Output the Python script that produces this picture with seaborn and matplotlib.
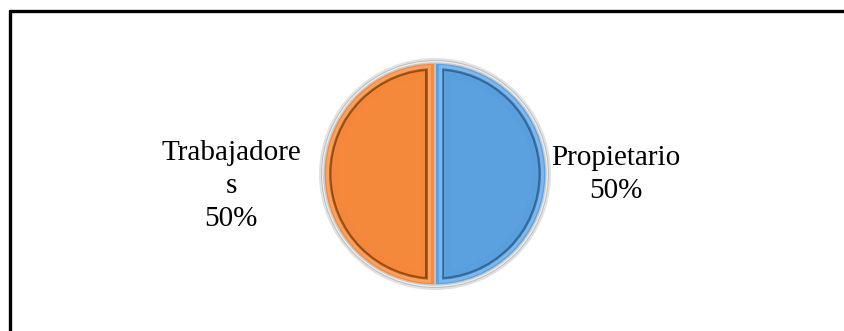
import matplotlib
matplotlib.use("Agg")
import matplotlib.pyplot as plt
from matplotlib.patches import Circle, Rectangle
from matplotlib.lines import Line2D
import seaborn as sns

# Ownership split
categories = ["Propietario", "Trabajadores"]
shares = [50, 50]
label_text = ["Propietario", "Trabajadore\ns"]

sns.set_theme(style="white")
plt.rcParams["font.family"] = ["Liberation Serif", "DejaVu Serif"]

W, H = 845, 331
fig = plt.figure(figsize=(W / 100, H / 100), dpi=100)
ax = fig.add_axes([0, 0, 1, 1])

cx, cy = 435, H - 174
r_outer = 115
r_pie = 111

base = ["#5DA3E2", "#F78B3D"]
rim = ["#7DB8EC", "#FBA25F"]
shade = ["#3F79B0", "#B4601F"]
deep = ["#2F5F8E", "#8A4512"]
face = ["#5A9FDD", "#F4873A"]

# light rim around the whole pie
ax.add_patch(Circle((cx, cy), r_outer, facecolor="#BDBDBD", edgecolor="#E2E2E2", lw=1.5, zorder=1))
ax.add_patch(Circle((cx, cy), r_outer - 2, facecolor="#EDEDED", edgecolor="none", zorder=1))

# main slices, clockwise from 12 o'clock
wedges, _ = ax.pie(
    shares, radius=r_pie, center=(cx, cy), startangle=90, counterclock=False,
    colors=base, explode=[0.025, 0.025],
    wedgeprops=dict(edgecolor="#C9C9C9", linewidth=1.0),
    frame=True,
)
for w in wedges:
    w.set_zorder(2)

# beveled faces: concentric layers clipped to each half
gap = 3
sides = [1, -1]  # Propietario on the right, Trabajadores on the left
for i, s in enumerate(sides):
    layers = [
        (r_pie - 2, gap + 1, rim[i], 1.0),
        (r_pie - 5, gap + 4, shade[i], 1.0),
        (r_pie - 6, gap + 5, deep[i], 0.8),
        (r_pie - 7.5, gap + 6.5, face[i], 1.0),
        (r_pie - 14, gap + 13, base[i], 0.6),
    ]
    for k, (rad, inset, col, alpha) in enumerate(layers):
        disc = Circle((cx, cy), rad, facecolor=col, edgecolor="none", alpha=alpha, zorder=3 + k)
        if s > 0:
            clip = Rectangle((cx + inset, cy - 200), 300, 400, transform=ax.transData)
        else:
            clip = Rectangle((cx - inset - 300, cy - 200), 300, 400, transform=ax.transData)
        ax.add_patch(disc)
        disc.set_clip_path(clip)

ax.set_xlim(0, W)
ax.set_ylim(0, H)
ax.set_aspect("equal")
ax.axis("off")

# data labels
total = sum(shares)
pos = [(616, H - 175), (231, H - 186)]
for name, v, (x, y) in zip(label_text, shares, pos):
    pct = 100.0 * v / total
    ax.text(x, y, f"{name}\n{pct:.0f}%", ha="center", va="center",
            fontsize=21, color="black", linespacing=1.35, zorder=10)

# chart frame (top and left edges)
fig.add_artist(Line2D([10.5 / W, 1], [1 - 11 / H, 1 - 11 / H], color="black", lw=2.4, transform=fig.transFigure))
fig.add_artist(Line2D([10.5 / W, 10.5 / W], [0, 1 - 11 / H], color="black", lw=2.4, transform=fig.transFigure))

fig.savefig("out.png", dpi=100, facecolor="white")
